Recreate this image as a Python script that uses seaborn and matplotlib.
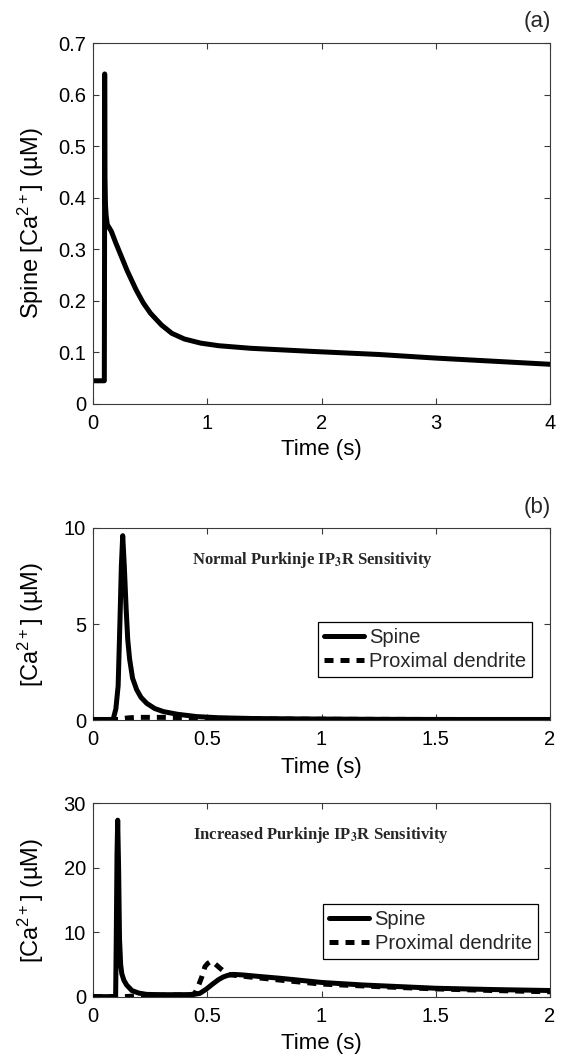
import matplotlib
matplotlib.use("Agg")
import matplotlib.pyplot as plt
import seaborn as sns

# ---------------- data ----------------
# Panel (a): spine calcium over 0-4 s
t_a = [0.0, 0.099, 0.101, 0.102, 0.104, 0.108, 0.115, 0.125, 0.16, 0.2, 0.25, 0.3,
       0.378, 0.44, 0.503, 0.6, 0.69, 0.8, 0.943, 1.1, 1.38, 1.915, 2.5, 3.0, 3.5, 4.0]
spine_a = [0.045, 0.045, 0.30, 0.64, 0.44, 0.39, 0.365, 0.348, 0.335, 0.312, 0.285, 0.258,
           0.221, 0.196, 0.176, 0.153, 0.137, 0.126, 0.118, 0.113, 0.108, 0.102, 0.096, 0.089, 0.083, 0.077]

# Panel (b) top: normal IP3R sensitivity
t_b = [0.0, 0.088, 0.1, 0.11, 0.118, 0.124, 0.13, 0.137, 0.145, 0.152, 0.16, 0.173, 0.191,
       0.21, 0.235, 0.27, 0.308, 0.37, 0.454, 0.55, 0.7, 0.9, 1.2, 1.6, 2.0]
spine_b = [0.05, 0.05, 0.6, 1.8, 5.2, 8.0, 9.6, 8.0, 5.8, 4.2, 3.2, 2.2, 1.6,
           1.2, 0.89, 0.62, 0.46, 0.32, 0.2, 0.14, 0.1, 0.08, 0.06, 0.05, 0.05]
t_bd = [0.0, 0.11, 0.13, 0.16, 0.2, 0.3, 0.4, 0.5, 0.6, 0.8, 1.0, 1.5, 2.0]
dend_b = [0.05, 0.05, 0.1, 0.14, 0.16, 0.16, 0.15, 0.12, 0.1, 0.07, 0.06, 0.05, 0.05]

# Panel (b) bottom: increased IP3R sensitivity
t_c = [0.0, 0.099, 0.102, 0.105, 0.108, 0.112, 0.116, 0.121, 0.126, 0.135, 0.147, 0.17,
       0.2, 0.235, 0.3, 0.38, 0.44, 0.468, 0.495, 0.527, 0.55, 0.57, 0.59, 0.614, 0.66,
       0.72, 0.818, 1.0, 1.18, 1.5, 1.75, 2.0]
spine_c = [0.05, 0.05, 10.0, 22.0, 27.4, 20.0, 9.0, 5.0, 3.6, 2.6, 1.86, 1.0,
           0.6, 0.4, 0.35, 0.35, 0.38, 0.57, 1.2, 2.1, 2.7, 3.1, 3.35, 3.5, 3.4,
           3.2, 2.9, 2.25, 1.86, 1.35, 1.15, 1.0]
t_cd = [0.0, 0.14, 0.18, 0.25, 0.35, 0.43, 0.446, 0.462, 0.476, 0.49, 0.502, 0.515, 0.535,
        0.556, 0.575, 0.592, 0.62, 0.7, 0.85, 1.0, 1.25, 1.5, 1.75, 2.0]
dend_c = [0.05, 0.05, 0.15, 0.25, 0.3, 0.35, 0.57, 1.8, 3.1, 4.7, 5.2, 5.5, 5.1,
          4.45, 3.9, 3.5, 3.35, 3.05, 2.5, 2.0, 1.6, 1.25, 1.0, 0.8]

series_labels = ["Spine", "Proximal dendrite"]
title_b = "Normal Purkinje IP$_\\mathbf{3}$R Sensitivity"
title_c = "Increased Purkinje IP$_\\mathbf{3}$R Sensitivity"

xticks_a = [0, 1, 2, 3, 4]
xticklabels_a = ["0", "1", "2", "3", "4"]
yticks_a = [0, 0.1, 0.2, 0.3, 0.4, 0.5, 0.6, 0.7]
yticklabels_a = ["0", "0.1", "0.2", "0.3", "0.4", "0.5", "0.6", "0.7"]
xticks_b = [0, 0.5, 1, 1.5, 2]
xticklabels_b = ["0", "0.5", "1", "1.5", "2"]
yticks_b = [0, 5, 10]
yticklabels_b = ["0", "5", "10"]
yticks_c = [0, 10, 20, 30]
yticklabels_c = ["0", "10", "20", "30"]

# ---------------- style ----------------
sns.set_theme(style="ticks")
plt.rcParams["font.family"] = ["Liberation Sans", "DejaVu Sans"]
plt.rcParams["mathtext.fontset"] = "custom"
plt.rcParams["mathtext.rm"] = "Liberation Sans"
plt.rcParams["mathtext.it"] = "Liberation Sans:italic"
plt.rcParams["mathtext.bf"] = "Liberation Sans:bold"

FRAME = "#3a3a3a"
LW = 3.6
DASH = (0, (1.8, 1.4))
TICK_FS = 14.5
LABEL_FS = 16
YLABEL_FS = 17

fig = plt.figure(figsize=(5.62, 10.57), dpi=100)
ax_a = fig.add_axes([0.1655, 0.6178, 0.8132, 0.3415])
ax_b = fig.add_axes([0.1655, 0.3184, 0.8132, 0.1821])
ax_c = fig.add_axes([0.1655, 0.0568, 0.8132, 0.1831])


def style_axes(ax, xt, xtl, yt, ytl, xlim, ylim, ylabel, xlab_y):
    ax.set_xlim(*xlim)
    ax.set_ylim(*ylim)
    ax.set_xticks(xt)
    ax.set_xticklabels(xtl)
    ax.set_yticks(yt)
    ax.set_yticklabels(ytl)
    for s in ax.spines.values():
        s.set_visible(True)
        s.set_color(FRAME)
        s.set_linewidth(0.8)
    ax.tick_params(axis="both", direction="in", length=4, width=0.8, color=FRAME,
                   top=True, right=True, labelsize=TICK_FS, labelcolor="black")
    ax.tick_params(axis="x", pad=7)
    ax.tick_params(axis="y", pad=5)
    ax.set_xlabel("Time (s)", fontsize=LABEL_FS, color="black")
    ax.set_ylabel(ylabel, fontsize=YLABEL_FS, color="black")
    ax.xaxis.label.set_va("center")
    ax.yaxis.label.set_va("center")
    ax.xaxis.set_label_coords(0.5, xlab_y)
    ax.yaxis.set_label_coords(-0.135, 0.5)
    ax.set_facecolor("white")


# Panel (a)
sns.lineplot(x=t_a, y=spine_a, ax=ax_a, color="black", linewidth=LW,
             estimator=None, sort=False, legend=False)
style_axes(ax_a, xticks_a, xticklabels_a, yticks_a, yticklabels_a, (0, 4), (0, 0.7),
           "Spine [Ca$^{2+}$] (\u00b5M)", -0.127)

# Panel (b) top
sns.lineplot(x=t_b, y=spine_b, ax=ax_b, color="black", linewidth=LW,
             estimator=None, sort=False, label=series_labels[0], zorder=3)
sns.lineplot(x=t_bd, y=dend_b, ax=ax_b, color="black", linewidth=LW, linestyle=DASH,
             estimator=None, sort=False, label=series_labels[1], zorder=2)
style_axes(ax_b, xticks_b, xticklabels_b, yticks_b, yticklabels_b, (0, 2), (0, 10),
           "[Ca$^{2+}$] (\u00b5M)", -0.247)
ax_b.text(0.96, 8.34, title_b, ha="center", va="center", fontsize=12,
          family="Liberation Serif", fontweight="bold", math_fontfamily="stix")

# Panel (b) bottom
sns.lineplot(x=t_c, y=spine_c, ax=ax_c, color="black", linewidth=LW,
             estimator=None, sort=False, label=series_labels[0], zorder=3)
sns.lineplot(x=t_cd, y=dend_c, ax=ax_c, color="black", linewidth=LW, linestyle=DASH,
             estimator=None, sort=False, label=series_labels[1], zorder=2)
style_axes(ax_c, xticks_b, xticklabels_b, yticks_c, yticklabels_c, (0, 2), (0, 30),
           "[Ca$^{2+}$] (\u00b5M)", -0.238)
ax_c.text(0.997, 25.1, title_c, ha="center", va="center", fontsize=12,
          family="Liberation Serif", fontweight="bold", math_fontfamily="stix")

for ax, anchor in ((ax_b, (0.9606, 0.5117)), (ax_c, (0.973, 0.4806))):
    handles, labels = ax.get_legend_handles_labels()
    leg = ax.legend(handles, labels, loc="upper right", bbox_to_anchor=anchor,
                    borderaxespad=0, fontsize=TICK_FS, frameon=True, fancybox=False,
                    handlelength=2.0, handletextpad=0.25, labelspacing=0.25,
                    borderpad=0.3)
    leg.get_frame().set_edgecolor("black")
    leg.get_frame().set_linewidth(0.9)
    leg.get_frame().set_alpha(1)

fig.text(551 / 562, 1 - 22 / 1057, "(a)", ha="right", va="center", fontsize=LABEL_FS)
fig.text(551 / 562, 1 - 508 / 1057, "(b)", ha="right", va="center", fontsize=LABEL_FS)

fig.savefig("out.png", dpi=100, facecolor="white")
